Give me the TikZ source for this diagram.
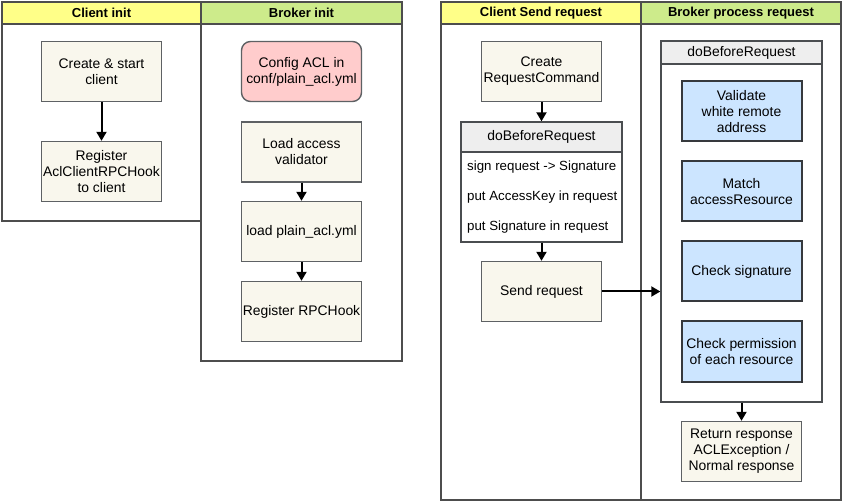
\documentclass[tikz,border=0pt]{standalone}
\usepackage{fontspec}
\setmainfont{Liberation Sans}
\usetikzlibrary{arrows.meta}

\definecolor{laneline}{HTML}{4D4D4D}
\definecolor{boxline}{HTML}{36393D}
\definecolor{clienthead}{HTML}{FFFF88}
\definecolor{brokerhead}{HTML}{CDEB8B}
\definecolor{stepfill}{HTML}{F9F7ED}
\definecolor{aclfill}{HTML}{FFCCCC}
\definecolor{checkfill}{HTML}{CCE5FF}
\definecolor{hookhead}{HTML}{EEEEEE}

\tikzset{
  lane/.style={draw=laneline, line width=1.6pt, fill=white, inner sep=0pt},
  lanehead/.style={draw=laneline, line width=1.6pt, inner sep=0pt,
    minimum height=22pt, font=\fontsize{13}{15}\selectfont\bfseries},
  stepbox/.style={draw=boxline!80, line width=1.4pt, fill=stepfill,
    minimum width=120pt, minimum height=60pt, align=center, inner sep=1pt,
    font=\fontsize{13.9}{16}\selectfont},
  checkbox/.style={stepbox, draw=boxline, line width=2pt, fill=checkfill},
  hook/.style={draw=boxline!90, line width=1.4pt, fill=white, inner sep=0pt},
  hookhead/.style={draw=boxline!90, line width=1.4pt, fill=hookhead, inner sep=0pt,
    font=\fontsize{13.9}{16}\selectfont},
  hookitem/.style={anchor=west, inner sep=0pt, font=\fontsize{13.3}{15}\selectfont},
  link/.style={-{Triangle[length=9pt,width=10pt]}}
}

\begin{document}
\begin{tikzpicture}[x=1pt, y=-1pt]
  \useasboundingbox (0,0) rectangle (843,502);

  % swimlanes
  \node[lane, minimum width=199pt, minimum height=219pt] (clientinit) at (101.5,111.5) {};
  \node[lane, minimum width=201pt, minimum height=359pt] (brokerinit) at (301.5,181.5) {};
  \node[lane, minimum width=200pt, minimum height=498pt] (clientsend) at (541,251) {};
  \node[lane, minimum width=200pt, minimum height=498pt] (brokerproc) at (741,251) {};

  \node[lanehead, fill=clienthead, minimum width=199pt] (h1) at (101.5,13) {Client init};
  \node[lanehead, fill=brokerhead, minimum width=201pt] (h2) at (301.5,13) {Broker init};
  \node[lanehead, fill=clienthead, minimum width=200pt] (h3) at (541,13) {Client Send request};
  \node[lanehead, fill=brokerhead, minimum width=200pt] (h4) at (741,13) {Broker process request};

  % client init
  \node[stepbox] (create) at (101.5,71.5) {Create \& start\\client};
  \node[stepbox] (reghook) at (101.5,171.5) {Register\\AclClientRPCHook\\to client};

  % broker init
  \node[stepbox, rounded corners=9pt, fill=aclfill] (config) at (301.5,71.5) {Config ACL in\\conf/plain\_acl.yml};
  \node[stepbox] (loadval) at (301.5,152) {Load access\\validator};
  \node[stepbox] (loadyml) at (301.5,231.5) {load plain\_acl.yml};
  \node[stepbox] (regrpc) at (301.5,311.5) {Register RPCHook};

  % client send request
  \node[stepbox] (cmd) at (541.5,71.5) {Create\\RequestCommand};
  \node[hook, minimum width=161pt, minimum height=120pt] (clienthook) at (541.5,182) {};
  \node[hookhead, minimum width=161pt, minimum height=30pt] at (541.5,137) {doBeforeRequest};
  \node[hookitem] (sign) at (467,167) {sign request -> Signature};
  \node[hookitem] (putkey) at (467,197) {put AccessKey in request};
  \node[hookitem] (putsig) at (467,227) {put Signature in request};
  \node[stepbox] (send) at (541.5,291.5) {Send request};

  % broker process request
  \node[hook, minimum width=161pt, minimum height=361pt] (brokerhook) at (741.5,221.5) {};
  \node[hookhead, minimum width=161pt, minimum height=23pt] at (741.5,52.5) {doBeforeRequest};
  \node[checkbox] (remote) at (741.5,111.5) {Validate\\white remote\\address};
  \node[checkbox] (match) at (741.5,191.5) {Match\\accessResource};
  \node[checkbox] (checksig) at (741.5,271.5) {Check signature};
  \node[checkbox] (checkperm) at (741.5,351.5) {Check permission\\of each resource};
  \node[stepbox] (response) at (741.5,451.5) {Return response\\ACLException /\\Normal response};

  \begin{scope}[line width=2pt]
    \draw[link] (create) -- (reghook);
    \draw[link] (loadval) -- (loadyml);
    \draw[link] (loadyml) -- (regrpc);
    \draw[link] (cmd) -- (clienthook);
    \draw[link] (clienthook) -- (send);
    \draw[link] (send.east) -- (send.east -| brokerhook.west);
    \draw[link] (brokerhook) -- (response);
  \end{scope}

\end{tikzpicture}
\end{document}
